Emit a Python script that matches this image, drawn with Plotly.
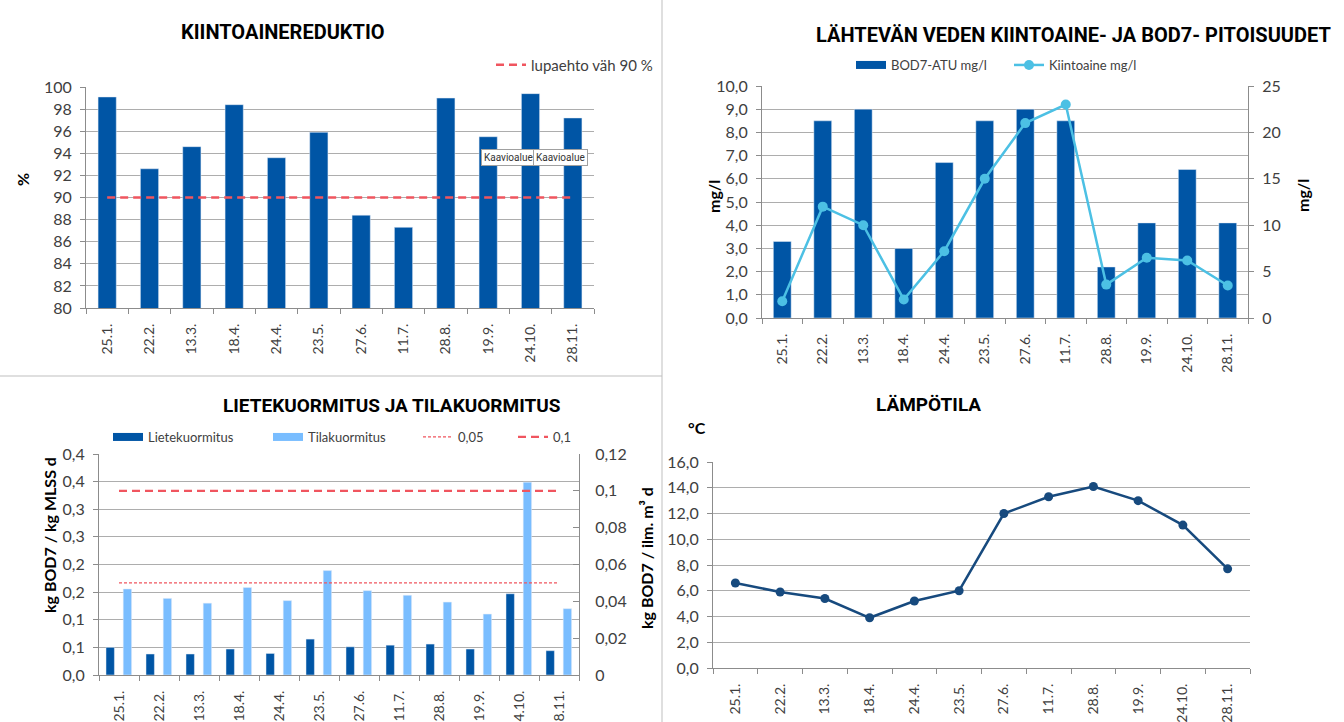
import plotly.graph_objects as go

W, H = 1344, 722

# ---------------- data ----------------
dates = ["25.1.", "22.2.", "13.3.", "18.4.", "24.4.", "23.5.",
         "27.6.", "11.7.", "28.8.", "19.9.", "24.10.", "28.11."]

# Kiintoainereduktio (%)
reduktio = [99.1, 92.6, 94.6, 98.4, 93.6, 95.9, 88.4, 87.3, 99.0, 95.5, 99.4, 97.2]
lupaehto = 90

# Lähtevän veden pitoisuudet
bod7_atu = [3.3, 8.5, 9.0, 3.0, 6.7, 8.5, 9.0, 8.5, 2.2, 4.1, 6.4, 4.1]
kiintoaine = [1.8, 12.0, 10.0, 2.0, 7.2, 15.0, 21.0, 23.0, 3.6, 6.5, 6.2, 3.5]

# Lietekuormitus ja tilakuormitus
lietekuormitus = [0.050, 0.038, 0.038, 0.047, 0.039, 0.065, 0.051, 0.054, 0.056, 0.047, 0.147, 0.044]
tilakuormitus = [0.0467, 0.0416, 0.0390, 0.0475, 0.0404, 0.0567, 0.0458, 0.0433, 0.0396, 0.0331, 0.1047, 0.0360]
raja_005 = 0.05
raja_01 = 0.1

# Lämpötila (°C)
lampotila = [6.6, 5.9, 5.4, 3.9, 5.2, 6.0, 12.0, 13.3, 14.1, 13.0, 11.1, 7.7]

# tick labels (Excel style rounding)
liete_tickvals = [0, 0.05, 0.10, 0.15, 0.20, 0.25, 0.30, 0.35, 0.40]
liete_ticktext = ["0,0", "0,1", "0,1", "0,2", "0,2", "0,3", "0,3", "0,4", "0,4"]
tila_tickvals = [0, 0.02, 0.04, 0.06, 0.08, 0.10, 0.12]
tila_ticktext = ["0", "0,02", "0,04", "0,06", "0,08", "0,1", "0,12"]

# ---------------- style ----------------
DARK = "#0055A5"
LIGHT = "#79BDFF"
CYAN = "#4CC0E4"
NAVY = "#174A7E"
RED = "#F0555F"
GRID = "#ADADAD"
AXIS = "#8C8C8C"
TICKC = "#404040"
TF = "Lato, 'Open Sans', sans-serif"
TITLEF = "Roboto, sans-serif"
BOLDF = "Lato, 'DejaVu Sans', sans-serif"


def fx(px):
    return px / W


def fy(py):
    return 1 - py / H


def dom_x(a, b):
    return [fx(a), fx(b)]


def dom_y(top, bottom):
    return [fy(bottom), fy(top)]


fig = go.Figure()

# ---- panel 1 ----
fig.add_trace(go.Bar(x=dates, y=reduktio, marker_color=DARK, width=0.43,
                     xaxis="x", yaxis="y", showlegend=False))
fig.add_trace(go.Scatter(x=[dates[0], dates[-1]], y=[lupaehto, lupaehto], mode="lines",
                         line=dict(color=RED, width=2.5, dash="8px,5px"),
                         name="lupaehto väh 90 %", xaxis="x", yaxis="y", legend="legend"))

# ---- panel 2 ----
fig.add_trace(go.Bar(x=dates, y=bod7_atu, marker_color=DARK, width=0.44,
                     xaxis="x2", yaxis="y2", showlegend=False))
fig.add_trace(go.Scatter(x=[None], y=[None], mode="lines", line=dict(color=DARK, width=8),
                         name="BOD7-ATU mg/l", xaxis="x2", yaxis="y2", legend="legend2"))
fig.add_trace(go.Scatter(x=dates, y=kiintoaine, mode="lines+markers",
                         line=dict(color=CYAN, width=2.5), marker=dict(size=10, color=CYAN),
                         name="Kiintoaine mg/l", xaxis="x2", yaxis="y3", legend="legend3"))

# ---- panel 3 ----
fig.add_trace(go.Bar(x=dates, y=lietekuormitus, marker_color=DARK, width=0.21, offset=-0.325,
                     xaxis="x3", yaxis="y4", showlegend=False))
fig.add_trace(go.Bar(x=dates, y=tilakuormitus, marker_color=LIGHT, width=0.21, offset=0.105,
                     xaxis="x3", yaxis="y5", showlegend=False))
fig.add_trace(go.Scatter(x=[dates[0], dates[-1]], y=[raja_005, raja_005], mode="lines",
                         line=dict(color=RED, width=1.2, dash="3px,2px"),
                         xaxis="x3", yaxis="y5", showlegend=False))
fig.add_trace(go.Scatter(x=[dates[0], dates[-1]], y=[raja_01, raja_01], mode="lines",
                         line=dict(color=RED, width=2.2, dash="8px,5px"),
                         xaxis="x3", yaxis="y5", showlegend=False))
# legend proxies
fig.add_trace(go.Scatter(x=[None], y=[None], mode="lines", line=dict(color=DARK, width=8),
                         name="Lietekuormitus", xaxis="x3", yaxis="y4", legend="legend4"))
fig.add_trace(go.Scatter(x=[None], y=[None], mode="lines", line=dict(color=LIGHT, width=8),
                         name="Tilakuormitus", xaxis="x3", yaxis="y4", legend="legend5"))
fig.add_trace(go.Scatter(x=[None], y=[None], mode="lines",
                         line=dict(color=RED, width=1.2, dash="3px,2px"),
                         name="0,05", xaxis="x3", yaxis="y4", legend="legend6"))
fig.add_trace(go.Scatter(x=[None], y=[None], mode="lines",
                         line=dict(color=RED, width=2.2, dash="8px,5px"),
                         name="0,1", xaxis="x3", yaxis="y4", legend="legend7"))

# ---- panel 4 ----
fig.add_trace(go.Scatter(x=dates, y=lampotila, mode="lines+markers",
                         line=dict(color=NAVY, width=2.5), marker=dict(size=9, color=NAVY),
                         xaxis="x4", yaxis="y6", showlegend=False))


def xcat(domain, anchor):
    return dict(domain=domain, anchor=anchor, type="category", range=[-0.5, 11.5],
                tickangle=-90, ticks="outside", tickson="boundaries", ticklen=5,
                tickcolor=AXIS, showline=True, linecolor=AXIS, linewidth=1, showgrid=False,
                ticklabelstandoff=9, tickfont=dict(family=TF, size=14, color=TICKC),
                fixedrange=True, zeroline=False, automargin=False)


def yax(domain, anchor, **kw):
    d = dict(domain=domain, anchor=anchor, showline=True, linecolor=AXIS, linewidth=1,
             ticks="outside", ticklen=5, tickcolor=AXIS, showgrid=True, gridcolor=GRID,
             gridwidth=1, zeroline=False, ticklabelstandoff=5, automargin=False,
             tickfont=dict(family=TF, size=16, color=TICKC), fixedrange=True)
    d.update(kw)
    return d


def leg(xtext, ytext, size=13):
    return dict(orientation="h", xanchor="left", yanchor="middle",
                bgcolor="rgba(0,0,0,0)", font=dict(family=TF, size=size, color=TICKC),
                itemwidth=30, x=fx(xtext - 41), y=fy(ytext))


fig.update_layout(
    width=W, height=H, autosize=False,
    margin=dict(l=0, r=0, t=0, b=0, autoexpand=False),
    paper_bgcolor="white", plot_bgcolor="white",
    separators=", ",
    barmode="overlay",
    xaxis=xcat(dom_x(86, 594), "y"),
    yaxis=yax(dom_y(87, 308), "x", range=[80, 100], dtick=2, tick0=80),
    xaxis2=xcat(dom_x(762, 1248), "y2"),
    yaxis2=yax(dom_y(86, 318), "x2", range=[0, 10], dtick=1, tickformat=".1f"),
    yaxis3=dict(overlaying="y2", side="right", anchor="x2", range=[0, 25], dtick=5,
                showline=True, linecolor=AXIS, ticks="outside", ticklen=5, tickcolor=AXIS,
                showgrid=False, zeroline=False, ticklabelstandoff=5, automargin=False,
                tickfont=dict(family=TF, size=16, color=TICKC), fixedrange=True),
    xaxis3=xcat(dom_x(99, 579), "y4"),
    yaxis4=yax(dom_y(454, 675), "x3", range=[0, 0.4], tickmode="array",
               tickvals=liete_tickvals, ticktext=liete_ticktext),
    yaxis5=dict(overlaying="y4", side="right", anchor="x3", range=[0, 0.12],
                tickmode="array", tickvals=tila_tickvals, ticktext=tila_ticktext,
                showline=True, linecolor=AXIS, ticks="inside", ticklen=6, tickcolor=AXIS,
                showgrid=False, zeroline=False, ticklabelstandoff=12, automargin=False,
                tickfont=dict(family=TF, size=16, color=TICKC), fixedrange=True),
    xaxis4=xcat(dom_x(713, 1250), "y6"),
    yaxis6=yax(dom_y(462, 668), "x4", range=[0, 16], dtick=2, tickformat=".1f"),
    legend=leg(532, 65, 15),
    legend2=leg(892, 65),
    legend3=leg(1050, 65),
    legend4=leg(149, 437),
    legend5=leg(309, 437),
    legend6=leg(459, 437),
    legend7=leg(554, 437),
)

# ---- titles & axis titles ----
titles = [
    ("KIINTOAINEREDUKTIO", 283, 32, 20),
    ("LÄHTEVÄN VEDEN KIINTOAINE- JA BOD7- PITOISUUDET", 1073, 35, 20),
    ("LIETEKUORMITUS JA TILAKUORMITUS", 392, 406, 19),
    ("LÄMPÖTILA", 928, 404, 19),
]
for txt, cx, cy, sz in titles:
    fig.add_annotation(text="<b>%s</b>" % txt, x=fx(cx), y=fy(cy), xref="paper", yref="paper",
                       xanchor="center", yanchor="middle", showarrow=False,
                       font=dict(family=TITLEF, size=sz, color="black"))

axis_titles = [
    ("%", 22, 180, -90),
    ("mg/l", 713, 196, -90),
    ("mg/l", 1302, 196, -90),
    ("kg BOD7 / kg MLSS d", 49, 535, -90),
    ("kg BOD7 / ilm. m³ d", 646, 558, -90),
    ("°C", 697, 427, 0),
]
for txt, cx, cy, ang in axis_titles:
    fig.add_annotation(text="<b>%s</b>" % txt, x=fx(cx), y=fy(cy), xref="paper", yref="paper",
                       xanchor="center", yanchor="middle", showarrow=False, textangle=ang,
                       font=dict(family=BOLDF, size=16, color="black"))

# tooltip artifacts from the original screenshot
for cx in (508, 560):
    fig.add_annotation(text="Kaavioalue", x=fx(cx), y=fy(157), xref="paper", yref="paper",
                       xanchor="center", yanchor="middle", showarrow=False,
                       bgcolor="white", bordercolor="#A0A0A0", borderwidth=1, borderpad=2,
                       font=dict(family=TITLEF, size=10, color="#333333"))

# divider lines
fig.add_shape(type="line", xref="paper", yref="paper", x0=fx(662), x1=fx(662), y0=0, y1=1,
              line=dict(color="#BFBFBF", width=1))
fig.add_shape(type="line", xref="paper", yref="paper", x0=0, x1=fx(662), y0=fy(376), y1=fy(376),
              line=dict(color="#BFBFBF", width=1))

fig.write_html(
    "out.html",
    config={"displayModeBar": False},
    post_script=("document.documentElement.style.margin='0px';"
                 "document.body.style.margin='0px';"
                 "document.body.style.overflow='hidden';"),
)
